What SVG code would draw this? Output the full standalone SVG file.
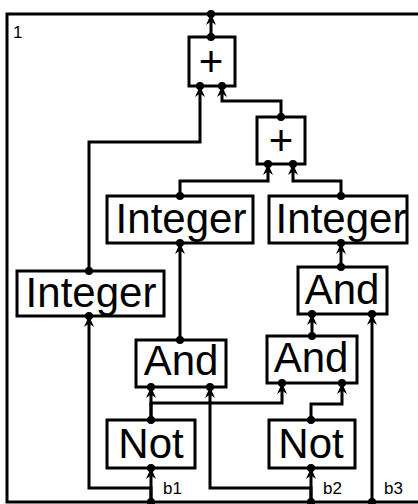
<svg xmlns="http://www.w3.org/2000/svg" width="418" height="504" viewBox="0 0 418 504">
  <style>
    .frame { fill: none; stroke: #000; stroke-width: 3; }
    .box rect { fill: #fff; stroke: #000; stroke-width: 3; }
    .box text { font-family: "Liberation Sans", Arial, sans-serif; font-size: 42px; text-anchor: middle; fill: #000; }
    .wire { fill: none; stroke: #000; stroke-width: 3; marker-end: url(#arrow); }
    .port { fill: #000; }
    .lbl { font-family: "Liberation Sans", Arial, sans-serif; font-size: 17px; fill: #000; }
  </style>
  <defs>
    <marker id="arrow" markerUnits="userSpaceOnUse" markerWidth="14" markerHeight="12" viewBox="-12 -6 14 12" refX="0" refY="0" orient="auto">
      <path d="M0,0 L-11,-5 L-7.5,0 L-11,5 Z" fill="#000"/>
    </marker>
  </defs>

  <rect class="frame" x="7" y="14" width="420" height="488"/>
  <text class="lbl" x="13" y="38">1</text>

  <g id="connectors">
    <path class="wire" d="M211,37 V14"/>
    <path class="wire" d="M281,117 V101 H222 V86"/>
    <path class="wire" d="M89,271 V142 H200 V86"/>
    <path class="wire" d="M180,196 V181 H268 V164"/>
    <path class="wire" d="M341,196 V181 H293 V164"/>
    <path class="wire" d="M341,267 V243"/>
    <path class="wire" d="M180,340 V243"/>
    <path class="wire" d="M312,336 V314"/>
    <path class="wire" d="M151,420 V387"/>
    <path class="wire" d="M151,420 V403 H282 V383"/>
    <path class="wire" d="M311,420 V404 H342 V383"/>
    <path class="wire" d="M151,502 V468"/>
    <path class="wire" d="M151,502 V488 H89 V316"/>
    <path class="wire" d="M311,502 V468"/>
    <path class="wire" d="M311,502 V488 H210 V387"/>
    <path class="wire" d="M372,502 V314"/>
  </g>

  <g id="plus1" class="box">
    <rect x="189" y="37" width="46" height="49"/>
    <text x="211" y="76">+</text>
    <circle class="port" cx="211" cy="37" r="4"/>
    <circle class="port" cx="200" cy="86" r="4"/>
    <circle class="port" cx="222" cy="86" r="4"/>
  </g>
  <g id="plus2" class="box">
    <rect x="257" y="117" width="48" height="47"/>
    <text x="281" y="155">+</text>
    <circle class="port" cx="281" cy="117" r="4"/>
    <circle class="port" cx="268" cy="164" r="4"/>
    <circle class="port" cx="293" cy="164" r="4"/>
  </g>
  <g id="integer-mid" class="box">
    <rect x="107" y="196" width="146" height="47"/>
    <text x="181" y="233">Integer</text>
    <circle class="port" cx="180" cy="196" r="4"/>
    <circle class="port" cx="180" cy="243" r="4"/>
  </g>
  <g id="integer-right" class="box">
    <rect x="269" y="196" width="138" height="47"/>
    <text x="341" y="233">Integer</text>
    <circle class="port" cx="341" cy="196" r="4"/>
    <circle class="port" cx="341" cy="243" r="4"/>
  </g>
  <g id="integer-left" class="box">
    <rect x="17" y="271" width="147" height="45"/>
    <text x="91" y="307">Integer</text>
    <circle class="port" cx="89" cy="271" r="4"/>
    <circle class="port" cx="89" cy="316" r="4"/>
  </g>
  <g id="and-upper" class="box">
    <rect x="298" y="267" width="89" height="47"/>
    <text x="342" y="304">And</text>
    <circle class="port" cx="341" cy="267" r="4"/>
    <circle class="port" cx="312" cy="314" r="4"/>
    <circle class="port" cx="372" cy="314" r="4"/>
  </g>
  <g id="and-left" class="box">
    <rect x="136" y="340" width="90" height="47"/>
    <text x="181" y="375">And</text>
    <circle class="port" cx="180" cy="340" r="4"/>
    <circle class="port" cx="151" cy="387" r="4"/>
    <circle class="port" cx="210" cy="387" r="4"/>
  </g>
  <g id="and-right" class="box">
    <rect x="267" y="336" width="90" height="47"/>
    <text x="311" y="372">And</text>
    <circle class="port" cx="312" cy="336" r="4"/>
    <circle class="port" cx="282" cy="383" r="4"/>
    <circle class="port" cx="342" cy="383" r="4"/>
  </g>
  <g id="not-left" class="box">
    <rect x="107" y="420" width="88" height="48"/>
    <text x="151" y="458">Not</text>
    <circle class="port" cx="151" cy="420" r="4"/>
    <circle class="port" cx="151" cy="468" r="4"/>
  </g>
  <g id="not-right" class="box">
    <rect x="269" y="420" width="86" height="48"/>
    <text x="311" y="458">Not</text>
    <circle class="port" cx="311" cy="420" r="4"/>
    <circle class="port" cx="311" cy="468" r="4"/>
  </g>

  <g id="frame-ports">
    <circle class="port" cx="211" cy="14" r="4"/>
    <circle class="port" cx="151" cy="502" r="4"/>
    <circle class="port" cx="311" cy="502" r="4"/>
    <circle class="port" cx="372" cy="502" r="4"/>
    <text class="lbl" x="163" y="494">b1</text>
    <text class="lbl" x="323" y="494">b2</text>
    <text class="lbl" x="384" y="494">b3</text>
  </g>
</svg>
